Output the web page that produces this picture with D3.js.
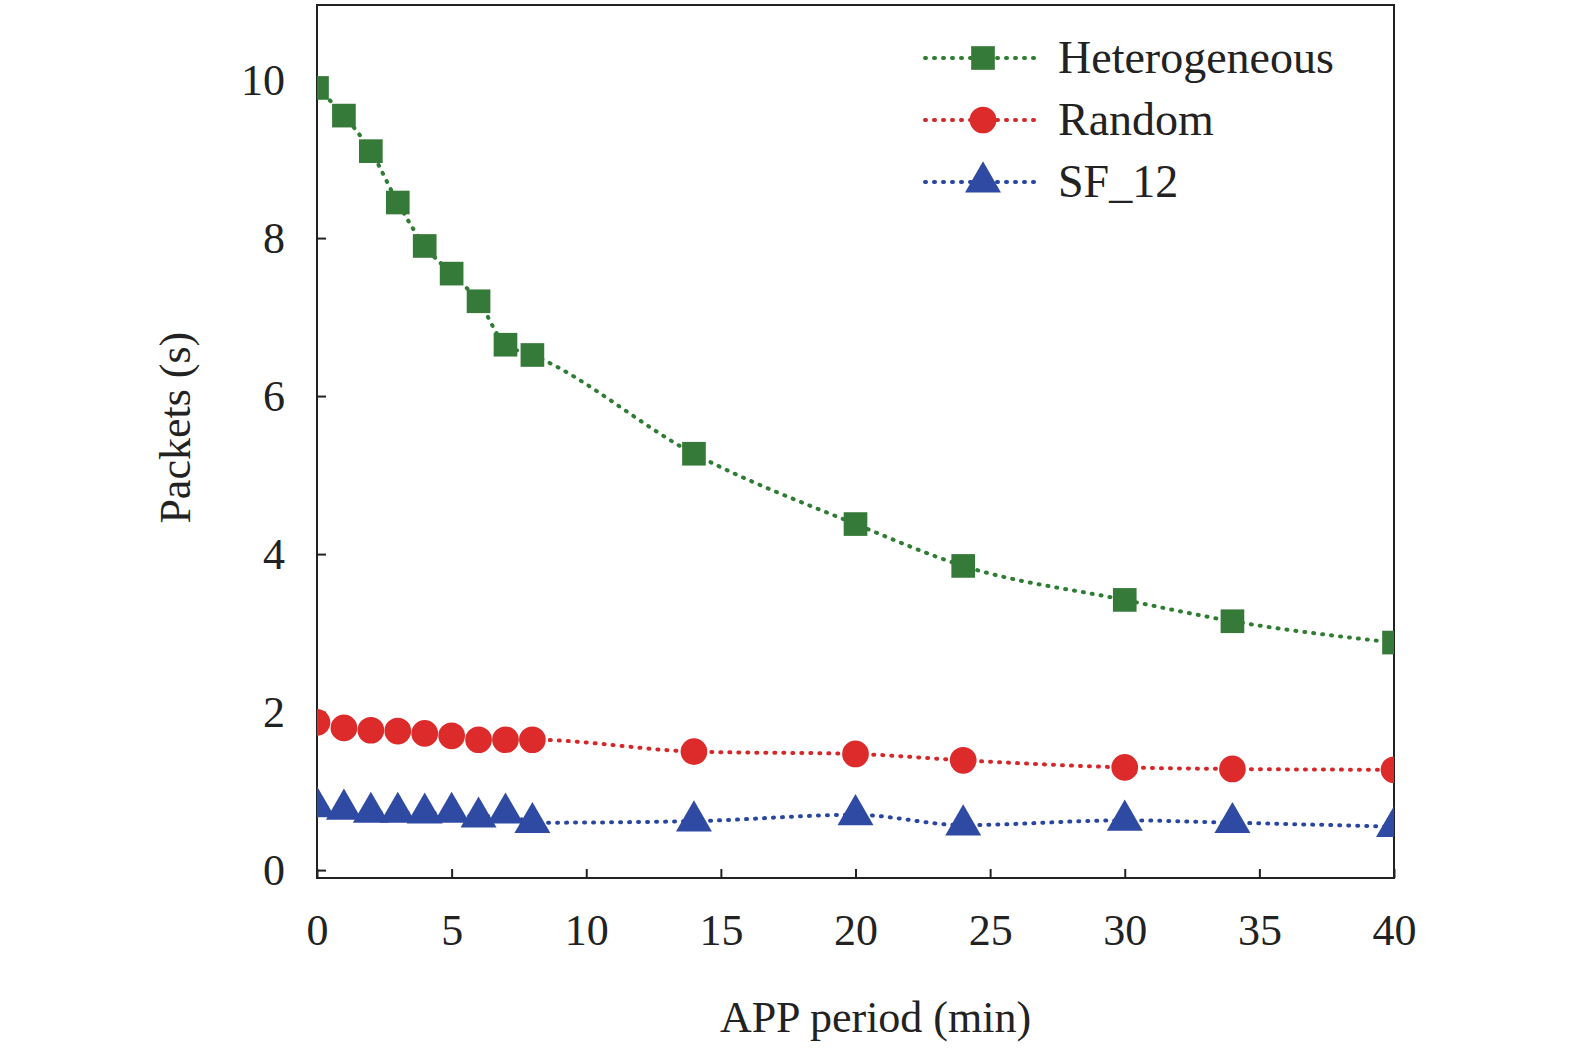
<!DOCTYPE html>
<html><head><meta charset="utf-8">
<script src="https://cdn.jsdelivr.net/npm/d3@7"></script>
<style>body{margin:0;background:#fff}svg{font-family:"Liberation Serif","Times New Roman",serif}</style>
</head><body><svg id="chart" width="1575" height="1059"></svg>
<script>
// APP period chart
var periods = [0, 1, 2, 3, 4, 5, 6, 7, 8, 14, 20, 24, 30, 34, 40]
var heterogeneous = [9.9, 9.55, 9.1, 8.45, 7.9, 7.55, 7.2, 6.65, 6.52, 5.27, 4.38, 3.85, 3.42, 3.15, 2.88]
var random = [1.87, 1.8, 1.77, 1.76, 1.73, 1.7, 1.65, 1.65, 1.65, 1.5, 1.47, 1.39, 1.3, 1.28, 1.27]
var sf12 = [0.8, 0.77, 0.73, 0.73, 0.72, 0.73, 0.67, 0.72, 0.6, 0.62, 0.7, 0.57, 0.63, 0.6, 0.55]
var xTicks = [0, 5, 10, 15, 20, 25, 30, 35, 40]
var yTicks = [0, 2, 4, 6, 8, 10]

var svg = d3.select('#chart')
var plotLeft = 317, plotRight = 1394, plotTop = 5, plotBottom = 878
var x = d3.scaleLinear().domain([0, 40]).range([plotLeft, plotRight])
var y = d3.scaleLinear().domain([-0.1, 10.95]).range([plotBottom, plotTop])

svg.append('rect').attr('x', plotLeft).attr('y', plotTop).attr('width', plotRight - plotLeft).attr('height', plotBottom - plotTop)
  .attr('fill', 'none').attr('stroke', '#222').attr('stroke-width', 2)

var xAxis = svg.append('g').attr('transform', 'translate(0,' + plotBottom + ')')
  .call(d3.axisBottom(x).tickValues(xTicks).tickSizeInner(-9).tickSizeOuter(0).tickPadding(36))
var yAxis = svg.append('g').attr('transform', 'translate(' + plotLeft + ',0)')
  .call(d3.axisLeft(y).tickValues(yTicks).tickSizeInner(-9).tickSizeOuter(0).tickPadding(32))
;[xAxis, yAxis].forEach(function (a) {
  a.select('.domain').remove()
  a.selectAll('line').attr('stroke', '#222').attr('stroke-width', 2)
  a.selectAll('text').attr('font-size', 44).attr('fill', '#222').attr('font-family', 'Liberation Serif')
})

svg.append('text').attr('x', (plotLeft + plotRight) / 2 + 20).attr('y', 1032).attr('text-anchor', 'middle')
  .attr('font-size', 44).attr('fill', '#222').text('APP period (min)')
svg.append('text').attr('transform', 'translate(190,' + (y(5.6)) + ') rotate(-90)').attr('text-anchor', 'middle')
  .attr('font-size', 44).attr('fill', '#222').text('Packets (s)')

var series = [
  { name: 'Heterogeneous', values: heterogeneous, color: '#2e7d32', fill: '#357a38', shape: d3.symbolSquare },
  { name: 'Random', values: random, color: '#d62728', fill: '#dd2a2a', shape: d3.symbolCircle },
  { name: 'SF_12', values: sf12, color: '#2846a0', fill: '#2f4aa3', shape: d3.symbolTriangle }
]

var line = d3.line().x(function (d) { return x(d[0]) }).y(function (d) { return y(d[1]) }).curve(d3.curveMonotoneX)
var clip = svg.append('defs').append('clipPath').attr('id', 'plotclip')
clip.append('rect').attr('x', plotLeft).attr('y', plotTop).attr('width', plotRight - plotLeft).attr('height', plotBottom - plotTop)

series.forEach(function (s, k) {
  var pts = periods.map(function (p, i) { return [p, s.values[i]] })
  var g = svg.append('g').attr('clip-path', 'url(#plotclip)')
  g.append('path').attr('d', line(pts)).attr('fill', 'none').attr('stroke', s.color)
    .attr('stroke-width', 4).attr('stroke-dasharray', '1,8').attr('stroke-linecap', 'round')
  g.selectAll('path.m').data(pts).enter().append('path').attr('class', 'm')
    .attr('d', d3.symbol().type(s.shape).size(560))
    .attr('transform', function (d) { return 'translate(' + x(d[0]) + ',' + y(d[1]) + ')' })
    .attr('fill', s.fill)

  // legend
  var ly = 58 + k * 62
  svg.append('line').attr('x1', 925).attr('x2', 1040).attr('y1', ly).attr('y2', ly)
    .attr('stroke', s.color).attr('stroke-width', 4).attr('stroke-dasharray', '1,8').attr('stroke-linecap', 'round')
  svg.append('path').attr('d', d3.symbol().type(s.shape).size(560)).attr('transform', 'translate(983,' + ly + ')').attr('fill', s.fill)
  svg.append('text').attr('x', 1058).attr('y', ly + 15).attr('font-size', 46).attr('fill', '#222').text(s.name)
})
</script></body></html>
